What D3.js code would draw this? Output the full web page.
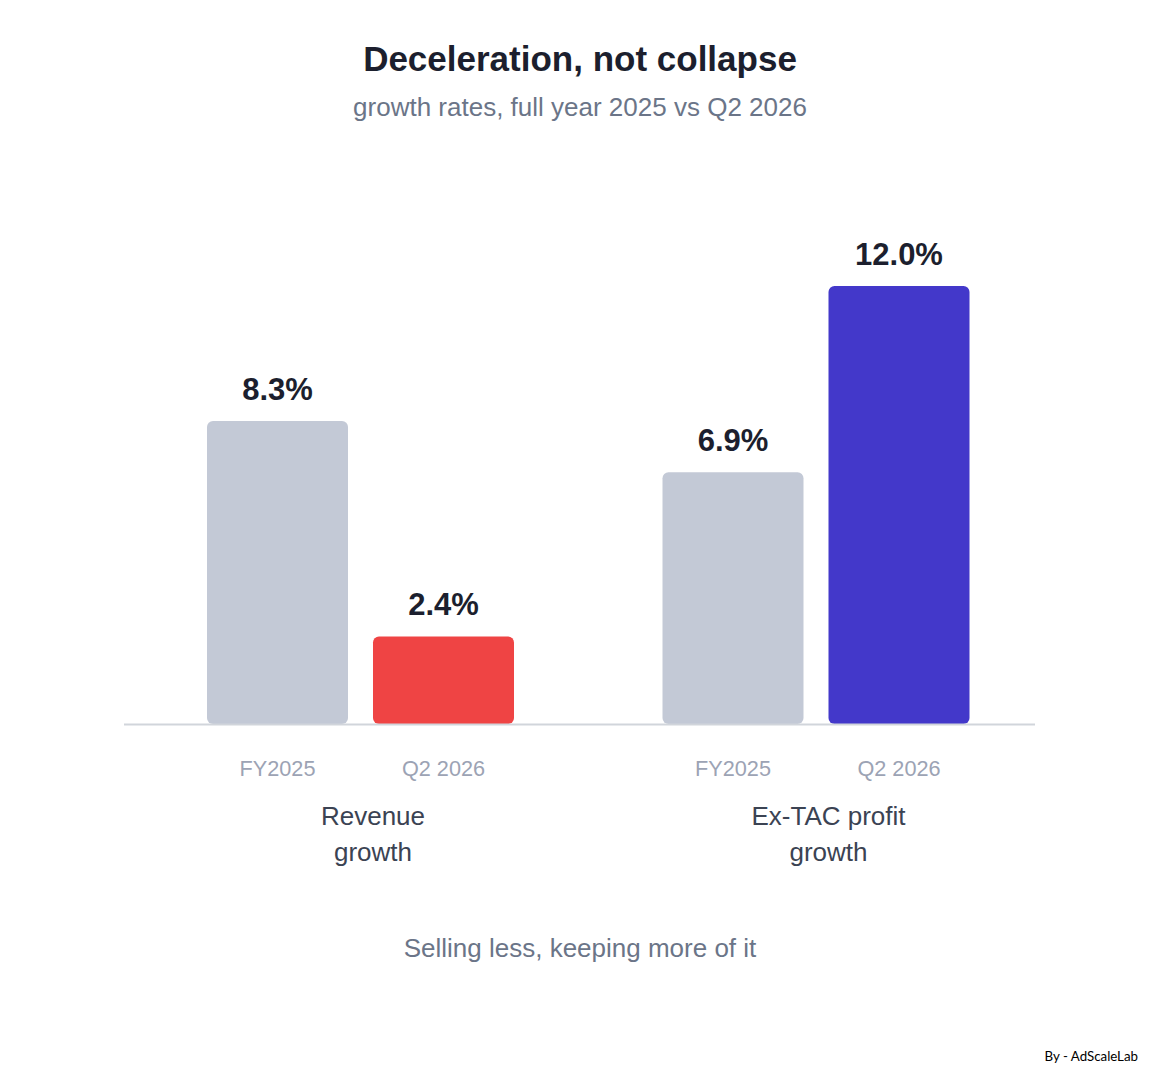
<!DOCTYPE html>
<html>
<head>
<meta charset="utf-8">
<script src="https://cdn.jsdelivr.net/npm/d3@7"></script>
<style>
  body { margin: 0; background: #fff; }
  svg { display: block; font-family: "Liberation Sans", Arial, sans-serif; }
</style>
</head>
<body>
<script>
// chart data
const groups = ["Revenue growth", "Ex-TAC profit growth"];
const groupLines = [["Revenue", "growth"], ["Ex-TAC profit", "growth"]];
const periods = ["FY2025", "Q2 2026"];
const values = [[8.3, 2.4], [6.9, 12.0]];
const barColors = [["#c3c9d6", "#ef4444"], ["#c3c9d6", "#4338ca"]];

const width = 1160, height = 1078;
const baseY = 724;

const svg = d3.select("body").append("svg")
    .attr("width", width)
    .attr("height", height);

// titles
svg.append("text")
    .attr("x", 580).attr("y", 71)
    .attr("text-anchor", "middle")
    .style("font-size", "35px").style("font-weight", "bold")
    .style("fill", "#1c1f2e")
    .text("Deceleration, not collapse");

svg.append("text")
    .attr("x", 580).attr("y", 116)
    .attr("text-anchor", "middle")
    .style("font-size", "26px")
    .style("fill", "#6b7588")
    .text("growth rates, full year 2025 vs Q2 2026");

// scales
const x0 = d3.scaleBand().domain(groups).range([124, 1035]).paddingInner(0);
const x1 = d3.scaleBand().domain(periods).range([83, 390]).paddingInner(0.1506).paddingOuter(0);
const y = d3.scaleLinear().domain([0, 13.2]).range([baseY, baseY - 13.2 * 36.5]);

const g = svg.selectAll("g.group")
    .data(groups)
    .enter().append("g")
    .attr("class", "group")
    .attr("transform", d => "translate(" + x0(d) + ",0)");

g.each(function(grp, gi) {
    const sel = d3.select(this);
    const rows = periods.map((p, i) => ({ p: p, v: values[gi][i], c: barColors[gi][i] }));

    sel.selectAll("rect")
        .data(rows)
        .enter().append("rect")
        .attr("x", d => x1(d.p))
        .attr("y", d => y(d.v))
        .attr("width", x1.bandwidth())
        .attr("height", d => y(0) - y(d.v))
        .attr("rx", 6).attr("ry", 6)
        .style("fill", d => d.c);

    sel.selectAll("text.val")
        .data(rows)
        .enter().append("text")
        .attr("class", "val")
        .attr("x", d => x1(d.p) + x1.bandwidth() / 2)
        .attr("y", d => y(d.v) - 21)
        .attr("text-anchor", "middle")
        .style("font-size", "31px").style("font-weight", "bold")
        .style("fill", "#1c1f2e")
        .text(d => d.v.toFixed(1) + "%");

    sel.selectAll("text.tick")
        .data(rows)
        .enter().append("text")
        .attr("class", "tick")
        .attr("x", d => x1(d.p) + x1.bandwidth() / 2)
        .attr("y", 776)
        .attr("text-anchor", "middle")
        .style("font-size", "21.7px")
        .style("fill", "#9ca3b4")
        .text(d => d.p);

    sel.append("text")
        .attr("x", 249)
        .attr("y", 825)
        .attr("text-anchor", "middle")
        .style("font-size", "26px")
        .style("fill", "#3b4353")
        .selectAll("tspan")
        .data(groupLines[gi])
        .enter().append("tspan")
        .attr("x", 249)
        .attr("dy", (d, i) => i === 0 ? 0 : 36)
        .text(d => d);
});

// baseline
svg.append("line")
    .attr("x1", 124).attr("x2", 1035)
    .attr("y1", baseY + 0.5).attr("y2", baseY + 0.5)
    .style("stroke", "#d1d5db")
    .style("stroke-width", 2);

// footer
svg.append("text")
    .attr("x", 580).attr("y", 957)
    .attr("text-anchor", "middle")
    .style("font-size", "26px")
    .style("fill", "#6b7588")
    .text("Selling less, keeping more of it");

svg.append("text")
    .attr("x", 1138).attr("y", 1061)
    .attr("text-anchor", "end")
    .style("font-family", "Lato, 'Open Sans', sans-serif")
    .style("font-size", "13.3px")
    .style("fill", "#000")
    .text("By - AdScaleLab");
</script>
</body>
</html>
